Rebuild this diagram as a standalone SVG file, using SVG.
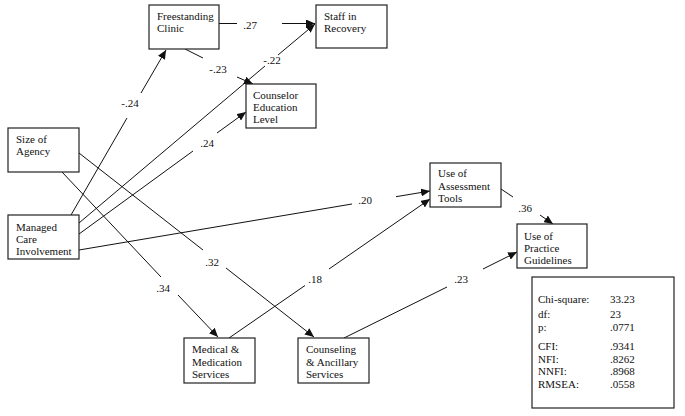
<svg xmlns="http://www.w3.org/2000/svg" width="685" height="416" viewBox="0 0 685 416">
<defs>
<marker id="ah" markerUnits="userSpaceOnUse" markerWidth="10" markerHeight="8" refX="9" refY="4" orient="auto">
<path d="M0,0 L9,4 L0,8 z" fill="#111"/>
</marker>
<style>
rect.n{fill:#fff;stroke:#222;stroke-width:1.2}
text{font-family:"Liberation Serif","Times New Roman",serif;font-size:11px;fill:#111}
.lbl{text-anchor:middle}
#connectors line{stroke:#111;stroke-width:1}
#connectors line.a{marker-end:url(#ah)}
</style>
</defs>
<rect width="685" height="416" fill="#fff"/>
<g id="connectors">
<line x1="219" y1="23.5" x2="237" y2="23.5"/><line class="a" x1="282" y1="23.5" x2="315" y2="23.5"/>
<line x1="185" y1="49" x2="203" y2="58"/><line class="a" x1="237" y1="77" x2="253" y2="84"/>
<line x1="71" y1="215" x2="127" y2="118"/><line class="a" x1="141" y1="93" x2="166" y2="50"/>
<line x1="79" y1="223" x2="265" y2="66"/><line class="a" x1="278" y1="55" x2="315" y2="24"/>
<line x1="79" y1="234" x2="193" y2="151"/><line class="a" x1="217" y1="133" x2="246" y2="112"/>
<line x1="62" y1="172" x2="161" y2="277"/><line class="a" x1="178" y1="295" x2="218" y2="337"/>
<line x1="79" y1="153" x2="203" y2="250"/><line class="a" x1="226" y1="268" x2="314" y2="337"/>
<line x1="229" y1="338" x2="305" y2="285.5"/><line class="a" x1="329" y1="269" x2="430" y2="199"/>
<line x1="344" y1="338" x2="447" y2="287"/><line class="a" x1="483" y1="269" x2="517" y2="252"/>
<line x1="501" y1="189" x2="513" y2="197"/><line class="a" x1="540" y1="215" x2="553" y2="224"/>
<line x1="79" y1="250" x2="352" y2="204"/><line class="a" x1="396" y1="196.7" x2="430" y2="191"/>
<text class="lbl" x="250" y="29">.27</text>
<text class="lbl" x="218" y="73">-.23</text>
<text class="lbl" x="130" y="107">-.24</text>
<text class="lbl" x="272" y="64">-.22</text>
<text class="lbl" x="207" y="147">.24</text>
<text class="lbl" x="365" y="204">.20</text>
<text class="lbl" x="212" y="266">.32</text>
<text class="lbl" x="163" y="292">.34</text>
<text class="lbl" x="315" y="283">.18</text>
<text class="lbl" x="461" y="283">.23</text>
<text class="lbl" x="525" y="212">.36</text>
</g>
<g id="freestanding"><rect class="n" x="149" y="5" width="70" height="44"/><text x="157" y="20">Freestanding</text><text x="157" y="32">Clinic</text></g>
<g id="staff"><rect class="n" x="316" y="5" width="71" height="43"/><text x="324" y="20">Staff in</text><text x="324" y="32">Recovery</text></g>
<g id="counselor"><rect class="n" x="246" y="84" width="70" height="44"/><text x="253" y="99">Counselor</text><text x="253" y="111">Education</text><text x="253" y="123">Level</text></g>
<g id="size"><rect class="n" x="8" y="128" width="71" height="44"/><text x="16" y="143">Size of</text><text x="16" y="155">Agency</text></g>
<g id="managed"><rect class="n" x="8" y="215" width="71" height="44"/><text x="16" y="231">Managed</text><text x="16" y="243">Care</text><text x="16" y="255">Involvement</text></g>
<g id="assessment"><rect class="n" x="430" y="163" width="71" height="44"/><text x="438" y="177">Use of</text><text x="438" y="190">Assessment</text><text x="438" y="202">Tools</text></g>
<g id="practice"><rect class="n" x="517" y="224" width="70" height="44"/><text x="524" y="240">Use of</text><text x="524" y="252">Practice</text><text x="524" y="264">Guidelines</text></g>
<g id="medical"><rect class="n" x="184" y="338" width="71" height="45"/><text x="192" y="353">Medical &amp;</text><text x="192" y="366">Medication</text><text x="192" y="378">Services</text></g>
<g id="counseling"><rect class="n" x="298" y="338" width="71" height="45"/><text x="306" y="353">Counseling</text><text x="306" y="366">&amp; Ancillary</text><text x="306" y="378">Services</text></g>
<g id="stats"><rect class="n" x="532" y="277" width="142" height="131"/>
<text x="538" y="303">Chi-square:</text><text x="610" y="303">33.23</text>
<text x="538" y="318">df:</text><text x="610" y="318">23</text>
<text x="538" y="331">p:</text><text x="610" y="331">.0771</text>
<text x="538" y="350">CFI:</text><text x="610" y="350">.9341</text>
<text x="538" y="363">NFI:</text><text x="610" y="363">.8262</text>
<text x="538" y="375">NNFI:</text><text x="610" y="375">.8968</text>
<text x="538" y="388">RMSEA:</text><text x="610" y="388">.0558</text>
</g>
</svg>
